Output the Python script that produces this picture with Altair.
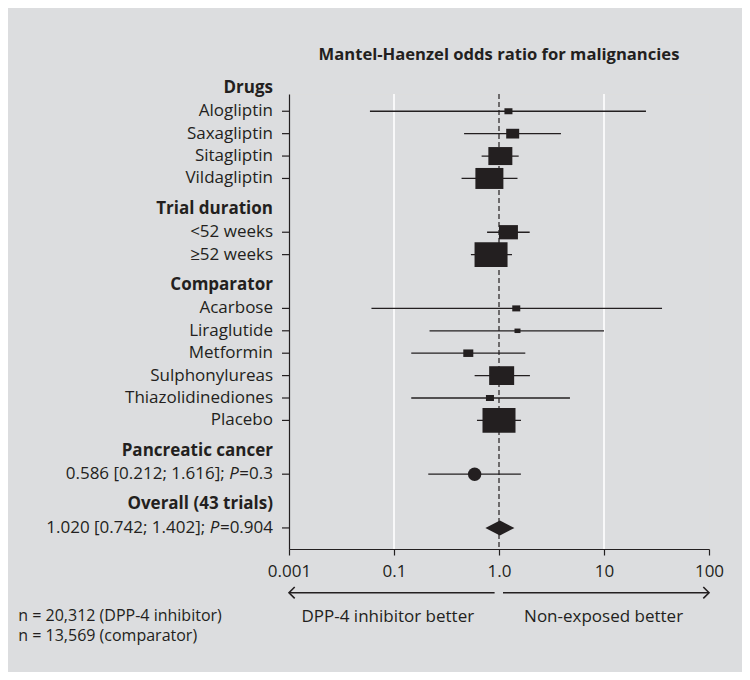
import altair as alt
import pandas as pd

# ---------------- data ----------------
groups = ["Drugs", "Trial duration", "Comparator", "Pancreatic cancer", "Overall (43 trials)"]
group_sizes = [4, 2, 6, 1, 1]

labels = ["Alogliptin", "Saxagliptin", "Sitagliptin", "Vildagliptin",
          "<52 weeks", "≥52 weeks",
          "Acarbose", "Liraglutide", "Metformin", "Sulphonylureas", "Thiazolidinediones", "Placebo"]
estimate = [1.23, 1.35, 1.03, 0.81, 1.23, 0.84, 1.46, 1.50, 0.51, 1.06, 0.82, 1.00]
lower = [0.059, 0.465, 0.683, 0.44, 0.77, 0.54, 0.061, 0.218, 0.146, 0.586, 0.146, 0.617]
upper = [25.1, 3.89, 1.54, 1.50, 1.96, 1.33, 35.7, 10.0, 1.78, 1.97, 4.74, 1.62]
weight = [5.9, 15.5, 52.9, 72.0, 33.1, 100, 5.9, 3.3, 9.2, 57.4, 5.9, 100]  # relative weight (%)

pancreatic = {"est": 0.586, "lower": 0.212, "upper": 1.616}
overall = {"est": 1.020, "lower": 0.742, "upper": 1.402}
stat_prefix = ["0.586 [0.212; 1.616]; ", "1.020 [0.742; 1.402]; "]
stat_suffix = ["=0.3", "=0.904"]

tick_values = [0.01, 0.1, 1, 10, 100]
tick_labels = ["0.001", "0.1", "1.0", "10", "100"]
grid_values = [0.1, 10]

title_text = "Mantel-Haenzel odds ratio for malignancies"
left_note = "DPP-4 inhibitor better"
right_note = "Non-exposed better"
n_lines = ["n = 20,312 (DPP-4 inhibitor)", "n = 13,569 (comparator)"]

# ---------------- layout ----------------
FONT = "Open Sans"
FS = 17
INK = "#231f20"
BG = "#dcdddf"
W, H = 420, 455
Y_DOMAIN = [-0.76, 19.55]
HEADER_START, HEADER_TO_ROW, ROW_STEP, GROUP_GAP = -1.04, 1.05, 1.0, 1.35

header_pos, row_pos = [], []
p = HEADER_START
for n in group_sizes:
    header_pos.append(p)
    rows = [p + HEADER_TO_ROW + i * ROW_STEP for i in range(n)]
    row_pos.extend(rows)
    p = rows[-1] + GROUP_GAP

box_df = pd.DataFrame({"label": labels, "est": estimate, "lower": lower,
                       "upper": upper, "weight": weight, "pos": row_pos[:12]})
head_df = pd.DataFrame({"group": groups, "pos": header_pos})
pc_df = pd.DataFrame([{**pancreatic, "pos": row_pos[12]}])
ov_pos = row_pos[13]
DH = 0.335
dia_df = pd.DataFrame({"x": [overall["lower"], overall["est"], overall["upper"]],
                       "y": [ov_pos, ov_pos - DH, ov_pos],
                       "y2": [ov_pos, ov_pos + DH, ov_pos]})
ci_df = pd.concat([box_df[["lower", "upper", "pos"]],
                   pd.DataFrame([{"lower": pancreatic["lower"], "upper": pancreatic["upper"], "pos": row_pos[12]}])])
tick_df = pd.DataFrame({"pos": row_pos})
one = pd.DataFrame({"a": [0]})

lab_expr = "[" + ",".join("'%s'" % t for t in tick_labels) + "][round(log(datum.value)/LN10)+2]"
xscale = alt.Scale(type="log", domain=[tick_values[0], tick_values[-1]], nice=False)
yscale = alt.Scale(domain=Y_DOMAIN, reverse=True, nice=False, zero=False)
x_axis = alt.Axis(values=tick_values, labelExpr=lab_expr, grid=False, title=None,
                  domainColor=INK, tickColor=INK, domainWidth=1.2, tickWidth=1.2, tickSize=6,
                  labelFontSize=FS, labelColor=INK, labelFont=FONT, labelPadding=8,
                  labelFlush=False)
y_axis = alt.Axis(labels=False, ticks=False, grid=False, title=None,
                  domainColor=INK, domainWidth=1.2)


def X(f):
    return alt.X(f, type="quantitative", scale=xscale, axis=x_axis)


def Y(f):
    return alt.Y(f, type="quantitative", scale=yscale, axis=y_axis)


layers = []
# white gridlines
layers.append(alt.Chart(pd.DataFrame({"g": grid_values})).mark_rule(color="white", strokeWidth=1.6)
              .encode(x=X("g")))
# dashed reference line at 1
layers.append(alt.Chart(pd.DataFrame({"r": [1.0]})).mark_rule(color=INK, strokeWidth=1.2, strokeDash=[5, 3])
              .encode(x=X("r")))
# CI lines
layers.append(alt.Chart(ci_df).mark_rule(color=INK, strokeWidth=1.3)
              .encode(x=X("lower"), x2="upper", y=Y("pos")))
# boxes
layers.append(alt.Chart(box_df).mark_point(shape="M-1,-0.75H1V0.75H-1Z", filled=True, fill=INK,
                                            opacity=1, strokeWidth=0)
              .encode(x=X("est"), y=Y("pos"),
                      size=alt.Size("weight:Q", scale=alt.Scale(domain=[0, 100], range=[0, 1089]), legend=None)))
# pancreatic circle
layers.append(alt.Chart(pc_df).mark_point(shape="circle", filled=True, fill=INK, opacity=1, size=180, strokeWidth=0)
              .encode(x=X("est"), y=Y("pos")))
# overall diamond
layers.append(alt.Chart(dia_df).mark_area(orient="vertical", color=INK, opacity=1)
              .encode(x=X("x"), y=Y("y"), y2="y2"))
# y ticks
layers.append(alt.Chart(tick_df).mark_rule(color=INK, strokeWidth=1.2)
              .encode(x=alt.value(-7), x2=alt.value(0), y=Y("pos")))
# row labels
layers.append(alt.Chart(box_df).mark_text(align="right", baseline="middle", font=FONT, fontSize=FS, color=INK)
              .encode(x=alt.value(-16), y=Y("pos"), text="label:N"))
# group headers
layers.append(alt.Chart(head_df).mark_text(align="right", baseline="middle", font=FONT, fontSize=FS,
                                            fontWeight="bold", color=INK)
              .encode(x=alt.value(-16), y=Y("pos"), text="group:N"))

# stat labels with italic P
EM = {"0": 0.572, "1": 0.572, "2": 0.572, "3": 0.572, "4": 0.572, "5": 0.572, "6": 0.572,
      "7": 0.572, "8": 0.572, "9": 0.572, "=": 0.572, ".": 0.266}
for i, (pre, suf) in enumerate(zip(stat_prefix, stat_suffix)):
    pos = row_pos[12 + i]
    w_suf = sum(EM.get(c, 0.55) for c in suf) * FS
    w_p = 0.6 * FS
    d = pd.DataFrame({"pos": [pos], "pre": [pre.rstrip()], "p": ["P"], "suf": [suf]})
    base = alt.Chart(d).mark_text(align="right", baseline="middle", font=FONT, fontSize=FS, color=INK)
    layers.append(base.encode(x=alt.value(-16), y=Y("pos"), text="suf:N"))
    layers.append(alt.Chart(d).mark_text(align="right", baseline="middle", font=FONT, fontSize=FS,
                                         color=INK, fontStyle="italic")
                  .encode(x=alt.value(-16 - w_suf - 0.5), y=Y("pos"), text="p:N"))
    layers.append(base.encode(x=alt.value(-16 - w_suf - w_p - 0.26 * FS), y=Y("pos"), text="pre:N"))

# title
layers.append(alt.Chart(pd.DataFrame({"t": [title_text]})).mark_text(
    align="center", baseline="middle", font=FONT, fontSize=16.6, fontWeight="bold", color=INK)
    .encode(x=alt.value(W / 2), y=alt.value(-39), text="t:N"))

# arrows
AY = 498.7
layers.append(alt.Chart(one).mark_rule(color=INK, strokeWidth=1.5)
              .encode(x=alt.value(1), x2=alt.value(205.6), y=alt.value(AY)))
layers.append(alt.Chart(one).mark_rule(color=INK, strokeWidth=1.5)
              .encode(x=alt.value(214), x2=alt.value(419), y=alt.value(AY)))
layers.append(alt.Chart(one).mark_point(shape="M1,-1L0,0L1,1", filled=False, stroke=INK, strokeWidth=1.6,
                                         size=130, opacity=1)
              .encode(x=alt.value(0), y=alt.value(AY)))
layers.append(alt.Chart(one).mark_point(shape="M-1,-1L0,0L-1,1", filled=False, stroke=INK, strokeWidth=1.6,
                                         size=130, opacity=1)
              .encode(x=alt.value(420), y=alt.value(AY)))
# notes
layers.append(alt.Chart(pd.DataFrame({"t": [left_note]})).mark_text(
    align="center", baseline="middle", font=FONT, fontSize=FS, color=INK)
    .encode(x=alt.value(98.8), y=alt.value(522.7), text="t:N"))
layers.append(alt.Chart(pd.DataFrame({"t": [right_note]})).mark_text(
    align="center", baseline="middle", font=FONT, fontSize=FS, color=INK)
    .encode(x=alt.value(314.6), y=alt.value(522.7), text="t:N"))
layers.append(alt.Chart(one).mark_text(
    align="left", baseline="middle", font=FONT, fontSize=16, color=INK, lineHeight=20,
    text=n_lines).encode(x=alt.value(-270.7), y=alt.value(522)))

chart = alt.layer(*layers).properties(
    width=W, height=H,
    autosize=alt.AutoSizeParams(type="none"),
    padding={"left": 281, "top": 86, "right": 33, "bottom": 123},
    background=BG,
).configure_view(stroke=None).configure(font=FONT)

chart.save("out.html", embed_options={"renderer": "svg", "actions": False})
